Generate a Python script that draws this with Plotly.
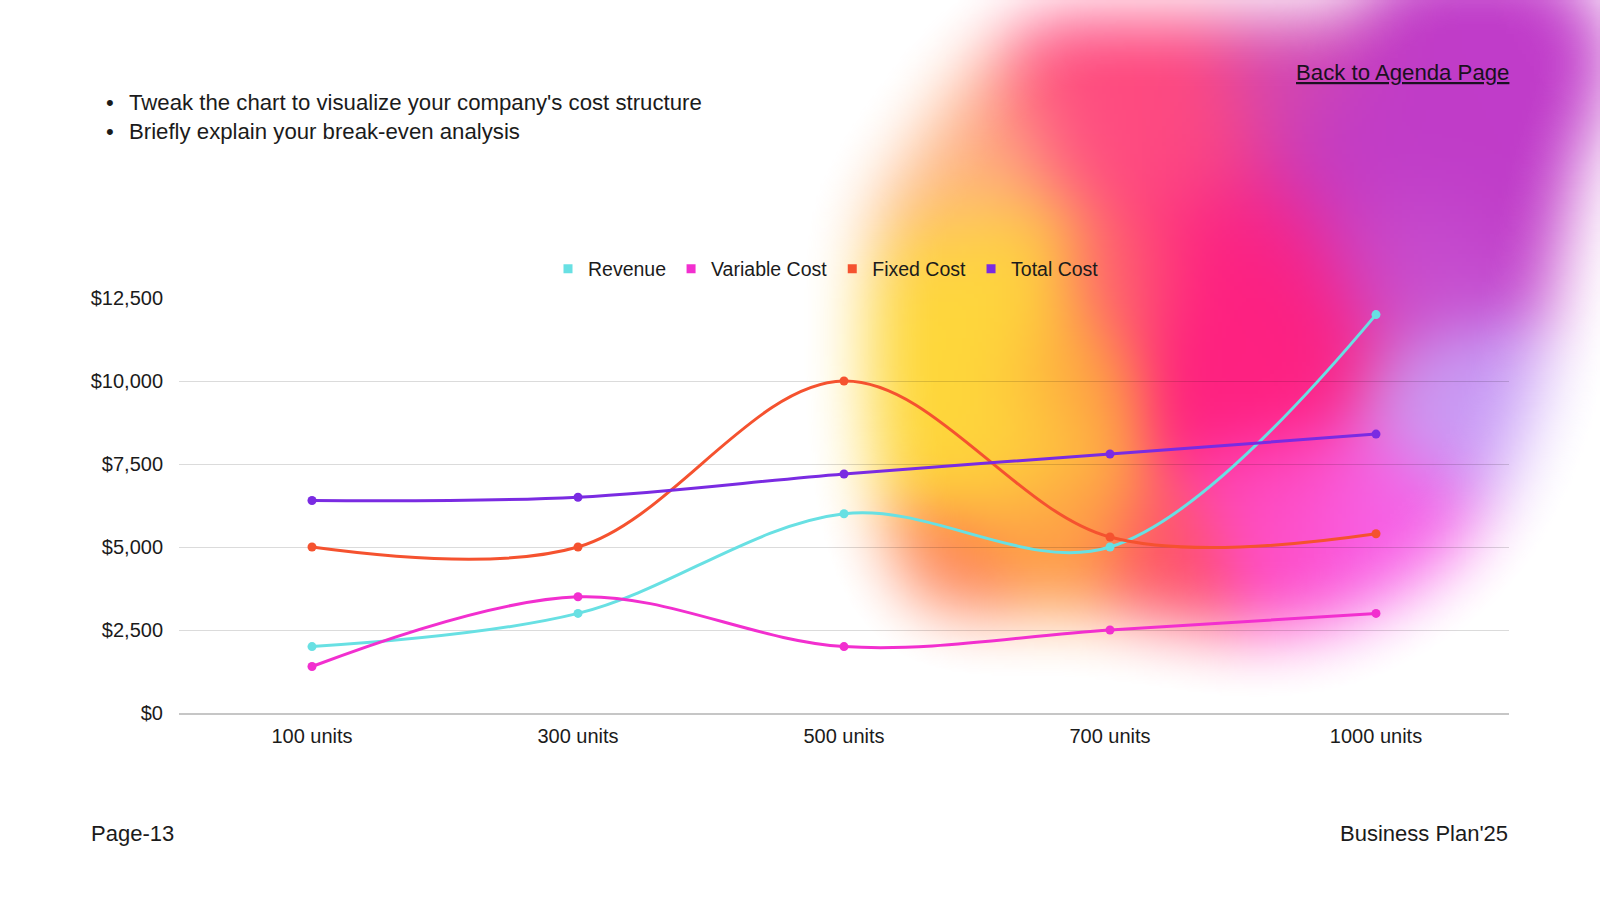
import numpy as np, zlib, struct, base64
import plotly.graph_objects as go

# ---------------- data ----------------
categories = ["100 units", "300 units", "500 units", "700 units", "1000 units"]
revenue = [2000, 3000, 6000, 5000, 12000]
variable_cost = [1400, 3500, 2000, 2500, 3000]
fixed_cost = [5000, 5000, 10000, 5300, 5400]
total_cost = [6400, 6500, 7200, 7800, 8400]
series_names = ["Revenue", "Variable Cost", "Fixed Cost", "Total Cost"]
series_values = [revenue, variable_cost, fixed_cost, total_cost]
series_colors = ["#68E0E3", "#F22FCF", "#F5522F", "#7A2BE2"]
y_tick_step = 2500
y_max = 12500

# ---------------- geometry ----------------
W, H = 1600, 900
L, R, T, B = 179, 91, 298, 187
PW, PH = W - L - R, H - T - B
FONT = "Liberation Sans, Arial, sans-serif"
TXT = "#1b1b1b"

def px(x):
    return (x - L) / PW

def py(y):
    return (H - B - y) / PH

# ---------------- decorative blurred blob (background image) ----------------
S = 4
w, h = W // S, H // S
yy, xx = np.mgrid[0:h, 0:w]
X = (xx + 0.5) * S
Y = (yy + 0.5) * S

outline = [(874, 210), (905, 160), (950, 95), (990, 50), (1040, 18), (1350, 14), (1400, -40),
           (1560, -40), (1615, 40), (1600, 110), (1580, 150), (1555, 270), (1535, 400),
           (1500, 492), (1452, 560), (1385, 604), (1330, 628), (1250, 636), (1160, 622),
           (1080, 612), (960, 612), (918, 598), (892, 552), (872, 460), (866, 300)]

def inside_poly(px_, py_, poly):
    ins = np.zeros(px_.shape, bool)
    j = len(poly) - 1
    for i in range(len(poly)):
        xi, yi = poly[i]
        xj, yj = poly[j]
        cond = ((yi > py_) != (yj > py_)) & (px_ < (xj - xi) * (py_ - yi) / (yj - yi + 1e-12) + xi)
        ins ^= cond
        j = i
    return ins

mask = inside_poly(X, Y, outline).astype(float)

def blur(a, sigma):
    rad = int(3 * sigma)
    k = np.exp(-0.5 * (np.arange(-rad, rad + 1) / sigma) ** 2)
    k /= k.sum()
    p = np.pad(a, ((0, 0), (rad, rad)), mode="constant")
    a = np.array([np.convolve(row, k, mode="valid") for row in p])
    p = np.pad(a, ((rad, rad), (0, 0)), mode="constant")
    a = np.array([np.convolve(col, k, mode="valid") for col in p.T]).T
    return a

# pad the mask generously so the blur treats outside-canvas areas per the outline
PADC = 40
Xp = (np.arange(-PADC, w + PADC) + 0.5) * S
Yp = (np.arange(-PADC, h + PADC) + 0.5) * S
XP, YP = np.meshgrid(Xp, Yp)
maskp = inside_poly(XP, YP, outline).astype(float)
alpha = blur(maskp, 34 / S)[PADC:PADC + h, PADC:PADC + w]
alpha = np.clip((alpha - 0.5) * 1.05 + 0.5, 0, 1)

def hx(c):
    c = c.lstrip("#")
    return np.array([int(c[i:i + 2], 16) for i in (0, 2, 4)], float)

anchors = [
    (985, 300, "#FFD93A", 65, 1.5),
    (990, 430, "#FFD73C", 65, 1.5),
    (940, 150, "#FFB88A", 70, 1.0),
    (1070, 380, "#FFA040", 45, 1.0),
    (1060, 530, "#FF9A48", 55, 1.0),
    (950, 572, "#FF7A52", 45, 1.1),
    (1130, 90, "#FF4A80", 80, 1.2),
    (1120, 290, "#FF6272", 45, 0.7),
    (1245, 330, "#FF2080", 80, 1.4),
    (1170, 560, "#FF5068", 45, 0.8),
    (1280, 520, "#FF4FC8", 55, 1.0),
    (1385, 522, "#F862E8", 55, 1.2),
    (1460, 410, "#C8A2F8", 55, 1.2),
    (1450, 120, "#C03CC8", 100, 1.5),
    (1545, 50, "#C23ECC", 70, 1.0),
    (1420, 262, "#C858D6", 55, 0.8),
    (1300, 40, "#D44CB0", 55, 0.8),
]
num = np.zeros((h, w, 3))
den = np.zeros((h, w)) + 1e-12
for ax_, ay_, col, sg, wt in anchors:
    wgt = wt * np.exp(-((X - ax_) ** 2 + (Y - ay_) ** 2) / (2 * sg ** 2)) + 1e-14
    num += wgt[..., None] * hx(col)
    den += wgt
rgb = num / den[..., None]
rgba = np.concatenate([rgb, (alpha * 255)[..., None]], axis=2)
rgba = np.clip(rgba, 0, 255).astype(np.uint8)

def to_png(arr):
    hh, ww, _ = arr.shape
    raw = b"".join(b"\x00" + arr[i].tobytes() for i in range(hh))
    def chunk(tag, data):
        return struct.pack(">I", len(data)) + tag + data + struct.pack(">I", zlib.crc32(tag + data) & 0xffffffff)
    ihdr = struct.pack(">IIBBBBB", ww, hh, 8, 6, 0, 0, 0)
    return b"\x89PNG\r\n\x1a\n" + chunk(b"IHDR", ihdr) + chunk(b"IDAT", zlib.compress(raw, 9)) + chunk(b"IEND", b"")

uri = "data:image/png;base64," + base64.b64encode(to_png(rgba)).decode()

# ---------------- figure ----------------
fig = go.Figure()
for name, vals, col in zip(series_names, series_values, series_colors):
    fig.add_trace(go.Scatter(
        x=categories, y=vals, mode="lines+markers", name=name,
        line=dict(color=col, width=3, shape="spline", smoothing=1.0),
        marker=dict(color=col, size=9), showlegend=False, hoverinfo="x+y+name"))
for name, col in zip(series_names, series_colors):
    fig.add_trace(go.Scatter(
        x=[None], y=[None], mode="markers", name=name,
        marker=dict(color=col, size=9, symbol="square"), showlegend=True))

BF = 22.2
annotations = [
    dict(text="•", x=px(110), y=py(103), xanchor="center", yanchor="middle", font=dict(size=BF, color=TXT)),
    dict(text="•", x=px(110), y=py(131.5), xanchor="center", yanchor="middle", font=dict(size=BF, color=TXT)),
    dict(text="Tweak the chart to visualize your company's cost structure", x=px(127), y=py(103),
         xanchor="left", yanchor="middle", font=dict(size=BF, color=TXT)),
    dict(text="Briefly explain your break-even analysis", x=px(127), y=py(131.5),
         xanchor="left", yanchor="middle", font=dict(size=BF, color=TXT)),
    dict(text="<u>Back to Agenda Page</u>", x=px(1511), y=py(72.5),
         xanchor="right", yanchor="middle", font=dict(size=22.2, color="#1a1020")),
    dict(text="Page-13", x=px(89), y=py(833), xanchor="left", yanchor="middle", font=dict(size=22, color=TXT)),
    dict(text="Business Plan'25", x=px(1510), y=py(833), xanchor="right", yanchor="middle",
         font=dict(size=22, color=TXT)),
]
for a in annotations:
    a.update(xref="paper", yref="paper", showarrow=False)

fig.update_layout(
    width=W, height=H, autosize=False,
    margin=dict(l=L, r=R, t=T, b=B, pad=0),
    paper_bgcolor="white", plot_bgcolor="rgba(0,0,0,0)",
    font=dict(family=FONT, size=20, color=TXT),
    legend=dict(orientation="h", x=px(826), y=py(269), xanchor="center", yanchor="middle",
                font=dict(size=19.5, color=TXT), itemwidth=30, bgcolor="rgba(0,0,0,0)",
                traceorder="normal"),
    xaxis=dict(type="category", categoryorder="array", categoryarray=categories,
               range=[-0.5, len(categories) - 0.5], showgrid=False, zeroline=False,
               showline=True, linecolor="#c6c6c6", linewidth=2, ticks="",
               ticklabelstandoff=4, tickfont=dict(size=20, color=TXT)),
    yaxis=dict(range=[0, y_max], tick0=0, dtick=y_tick_step, tickprefix="$", tickformat=",d",
               showgrid=True, gridcolor="rgba(0,0,0,0.14)", gridwidth=1, zeroline=False,
               showline=False, ticks="", ticklabelstandoff=15, tickfont=dict(size=20, color=TXT)),
    images=[dict(source=uri, xref="paper", yref="paper", x=-L / PW, y=1 + T / PH,
                 sizex=W / PW, sizey=H / PH, xanchor="left", yanchor="top",
                 sizing="stretch", layer="below", opacity=1)],
    annotations=annotations,
    hovermode="closest",
)

fig.write_html("out.html", config={"displayModeBar": False},
               post_script="document.body.style.margin='0';document.body.style.overflow='hidden';")
